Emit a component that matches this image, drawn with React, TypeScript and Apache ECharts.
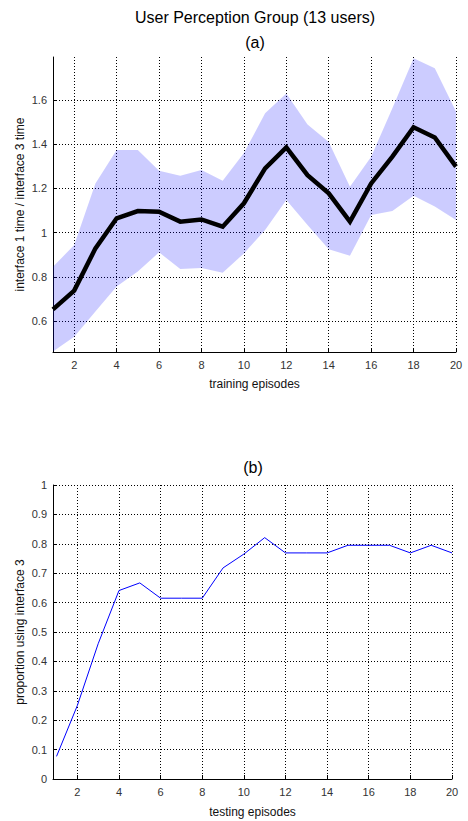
import React, { useEffect, useRef } from "react";
import * as echarts from "echarts";

const episodes = [1, 2, 3, 4, 5, 6, 7, 8, 9, 10, 11, 12, 13, 14, 15, 16, 17, 18, 19, 20];
const ratioMean = [0.653, 0.738, 0.929, 1.065, 1.098, 1.095, 1.05, 1.06, 1.027, 1.133, 1.291, 1.386, 1.26, 1.178, 1.05, 1.223, 1.344, 1.477, 1.431, 1.299];
const ratioUpper = [0.846, 0.944, 1.223, 1.374, 1.374, 1.28, 1.258, 1.284, 1.235, 1.36, 1.54, 1.63, 1.49, 1.41, 1.208, 1.344, 1.563, 1.789, 1.744, 1.548];
const ratioLower = [0.462, 0.529, 0.643, 0.756, 0.824, 0.911, 0.836, 0.84, 0.819, 0.906, 1.012, 1.148, 1.035, 0.925, 0.896, 1.08, 1.098, 1.167, 1.118, 1.057];
const proportion = [0.077, 0.25, 0.46, 0.641, 0.667, 0.615, 0.615, 0.615, 0.718, 0.765, 0.821, 0.769, 0.769, 0.769, 0.795, 0.795, 0.795, 0.769, 0.795, 0.769];

const xTicks = [2, 4, 6, 8, 10, 12, 14, 16, 18, 20];
const yTicksTop = [0.6, 0.8, 1, 1.2, 1.4, 1.6];

const titleMain = "User Perception Group (13 users)";
const titleA = "(a)";
const titleB = "(b)";

const FONT = "Liberation Sans, Arial, Helvetica, sans-serif";

export default function App() {
  const ref = useRef<HTMLDivElement>(null);
  useEffect(() => {
    if (!ref.current) return;
    const chart = echarts.init(ref.current, undefined, { renderer: "svg" });
    const gridLine = { show: true, lineStyle: { color: "#000", width: 1, type: [1, 2] as any } };
    const axisLine = { show: true, lineStyle: { color: "#000", width: 1 } };
    const axisTickIn = { show: true, inside: true, length: 4, lineStyle: { color: "#000" } };
    const labelStyle = { color: "#333", fontFamily: FONT, fontSize: 11 };
    const nameStyle = { color: "#111", fontFamily: FONT, fontSize: 12 };

    const bandData = episodes.map((x, i) => [x, ratioLower[i], ratioUpper[i]]);

    const option: any = {
      animation: false,
      backgroundColor: "#fff",
      graphic: [
        { type: "text", x: 255, y: 17, style: { text: titleMain, font: `16px ${FONT}`, fill: "#000", textAlign: "center", textVerticalAlign: "middle" } },
        { type: "text", x: 255, y: 42, style: { text: titleA, font: `16px ${FONT}`, fill: "#000", textAlign: "center", textVerticalAlign: "middle" } },
        { type: "text", x: 253, y: 467, style: { text: titleB, font: `16px ${FONT}`, fill: "#000", textAlign: "center", textVerticalAlign: "middle" } },
      ],
      grid: [
        { left: 53, top: 57, right: 12, height: 295, containLabel: false },
        { left: 53, top: 485, right: 16, height: 294, containLabel: false },
      ],
      xAxis: [
        {
          type: "value", gridIndex: 0, min: 1, max: 20,
          name: "training episodes", nameLocation: "middle", nameGap: 26, nameMoveOverlap: false, nameTextStyle: nameStyle,
          axisLine, axisTick: { ...axisTickIn, customValues: xTicks },
          axisLabel: { ...labelStyle, margin: 7, customValues: xTicks },
          splitLine: gridLine,
        },
        {
          type: "value", gridIndex: 1, min: 0.83, max: 20,
          name: "testing episodes", nameLocation: "middle", nameGap: 27, nameMoveOverlap: false, nameTextStyle: nameStyle,
          axisLine, axisTick: { ...axisTickIn, customValues: xTicks },
          axisLabel: { ...labelStyle, margin: 7, customValues: xTicks },
          splitLine: gridLine,
        },
      ],
      yAxis: [
        {
          type: "value", gridIndex: 0, min: 0.46, max: 1.795,
          name: "interface 1 time / interface 3 time", nameLocation: "middle", nameGap: 27, nameMoveOverlap: false, nameTextStyle: nameStyle,
          axisLine, axisTick: { ...axisTickIn, customValues: yTicksTop },
          axisLabel: { ...labelStyle, margin: 6, customValues: yTicksTop, formatter: (v: number) => String(Math.round(v * 10) / 10) },
          splitLine: gridLine,
        },
        {
          type: "value", gridIndex: 1, min: 0, max: 1, interval: 0.1,
          name: "proportion using interface 3", nameLocation: "middle", nameGap: 27, nameMoveOverlap: false, nameTextStyle: nameStyle,
          axisLine, axisTick: axisTickIn,
          axisLabel: { ...labelStyle, margin: 6, formatter: (v: number) => String(Math.round(v * 10) / 10) },
          splitLine: gridLine,
        },
      ],
      series: [
        {
          type: "custom", xAxisIndex: 0, yAxisIndex: 0, silent: true, clip: true,
          data: bandData,
          encode: { x: 0, y: [1, 2] },
          renderItem: (params: any, api: any) => {
            if (params.dataIndex !== 0) return null;
            const top = bandData.map((d) => api.coord([d[0], d[2]]));
            const bottom = bandData.map((d) => api.coord([d[0], d[1]])).reverse();
            return {
              type: "polygon",
              shape: { points: top.concat(bottom) },
              style: { fill: "rgba(0,0,255,0.2)", stroke: "none" },
            };
          },
        },
        {
          type: "line", xAxisIndex: 0, yAxisIndex: 0, symbol: "none",
          data: episodes.map((x, i) => [x, ratioMean[i]]),
          lineStyle: { color: "#000", width: 4.5, join: "miter" },
        },
        {
          type: "line", xAxisIndex: 1, yAxisIndex: 1, symbol: "none",
          data: episodes.map((x, i) => [x, proportion[i]]),
          lineStyle: { color: "#0000ff", width: 1 },
        },
      ],
    };
    chart.setOption(option);
    return () => chart.dispose();
  }, []);
  return (
    <div
      ref={ref}
      style={{ position: "fixed", left: 0, top: 0, width: 468, height: 821, background: "#fff" }}
    />
  );
}
